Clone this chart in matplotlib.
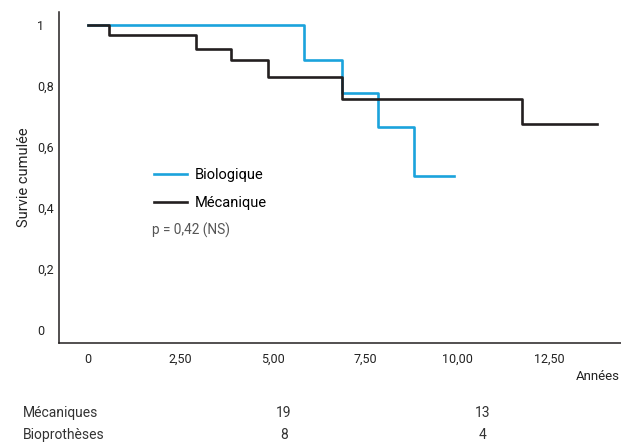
import numpy as np
import matplotlib
matplotlib.use("Agg")
import matplotlib.pyplot as plt
import matplotlib.transforms as mtransforms

plt.rcParams['font.family'] = ['Roboto', 'DejaVu Sans']

## --- Data ---
# Mechanical valves (black curve): step times [years] and survival
meca_t = [0, 0.57, 2.93, 3.88, 4.88, 6.88, 11.76, 13.79]
meca_s = [1.0, 0.967, 0.921, 0.885, 0.830, 0.757, 0.675, 0.675]

# Biological valves (blue curve)
bio_t = [0, 5.85, 6.88, 7.86, 8.83, 9.92]
bio_s = [1.0, 0.885, 0.777, 0.666, 0.505, 0.505]

x_ticks = [0, 2.5, 5.0, 7.5, 10.0, 12.5]
x_labels = ["0", "2,50", "5,00", "7,50", "10,00", "12,50"]
y_ticks = [0, 0.2, 0.4, 0.6, 0.8, 1.0]
y_labels = ["0", "0,2", "0,4", "0,6", "0,8", "1"]

# Numbers at risk
risk_rows = ["Mécaniques", "Bioprothèses"]
risk_x = [5.3, 10.7]
risk_vals = [["19", "13"], ["8", "4"]]

blue = "#1ba3dc"
black = "#231f20"

## --- Plot ---
fig = plt.figure(figsize=(6.21, 4.45), dpi=100)
ax = fig.add_axes([0.095, 0.229, 0.905, 0.744])

ax.step(bio_t, bio_s, where="post", color=blue, lw=1.9, label="Biologique")
ax.step(meca_t, meca_s, where="post", color=black, lw=1.9, label="Mécanique")

ax.set_xlim(-0.79, 14.44)
ax.set_ylim(-0.043, 1.043)

for s in ["top", "right"]:
    ax.spines[s].set_visible(False)
ax.spines["left"].set_linewidth(1.1)
ax.spines["bottom"].set_linewidth(1.1)
ax.spines["left"].set_color(black)
ax.spines["bottom"].set_color(black)

ax.set_xticks(x_ticks)
ax.set_xticklabels(x_labels, fontsize=9, color="#222222")
ax.set_yticks(y_ticks)
ax.set_yticklabels(y_labels, fontsize=9, color="#222222", ha="left")
ax.tick_params(axis="x", length=0, pad=7)
ax.tick_params(axis="y", length=0, pad=16)

ax.set_ylabel("Survie cumulée", fontsize=10.5, color="#222222", labelpad=4)
fig.text(0.998, 0.155, "Années", ha="right", va="center", fontsize=9.5, color="#222222")

leg = ax.legend(loc="upper left", bbox_to_anchor=(0.145, 0.567), frameon=False,
                fontsize=10.5, handlelength=2.3, handletextpad=0.5, labelspacing=0.95)
ax.text(0.166, 0.342, "p = 0,42 (NS)", transform=ax.transAxes, fontsize=9.8,
        color="#555555", va="center")

# Numbers-at-risk table under the chart
trans = mtransforms.blended_transform_factory(ax.transData, fig.transFigure)
row_y = [0.073, 0.022]
for i, name in enumerate(risk_rows):
    fig.text(0.037, row_y[i], name, fontsize=10, color="#333333", va="center")
    for j, xv in enumerate(risk_x):
        ax.text(xv, row_y[i], risk_vals[i][j], transform=trans, fontsize=10,
                color="#333333", ha="center", va="center", clip_on=False)

fig.savefig("out.png", dpi=100)
